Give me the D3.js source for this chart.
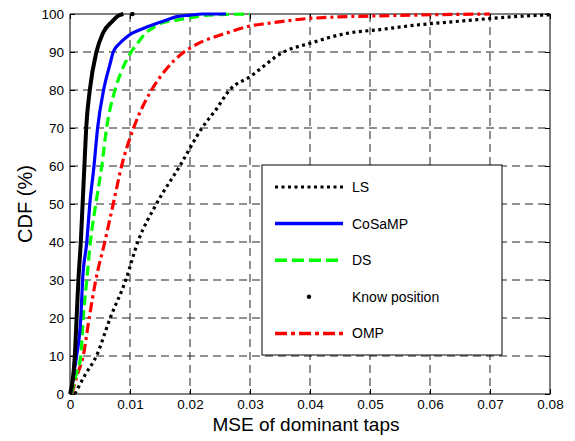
<!DOCTYPE html>
<html><head><meta charset="utf-8">
<script src="https://cdn.jsdelivr.net/npm/d3@7"></script>
<style>body{margin:0;background:#fff}text{font-family:Arial,"Liberation Sans",sans-serif}</style>
</head><body><svg id="c" width="575" height="441"></svg>
<script>
const xTicks = [0, 0.01, 0.02, 0.03, 0.04, 0.05, 0.06, 0.07, 0.08];
const xTickLabels = ["0", "0.01", "0.02", "0.03", "0.04", "0.05", "0.06", "0.07", "0.08"];
const yTicks = [0, 10, 20, 30, 40, 50, 60, 70, 80, 90, 100];

const lsMSE = [0.0008, 0.0025, 0.0044, 0.0067, 0.0093, 0.0113, 0.0144, 0.0183, 0.0220, 0.0244, 0.0266, 0.0300, 0.0356, 0.0400, 0.0461, 0.0517, 0.0572, 0.0656, 0.0740, 0.0800];
const lsCDF = [0, 5, 10, 20, 30, 40, 50, 60, 70, 75, 80, 83.5, 90, 92.3, 94.9, 95.9, 97, 98.2, 99.3, 99.8];

const cosampMSE = [0.0001, 0.0006, 0.0011, 0.0018, 0.0021, 0.0028, 0.0033, 0.0040, 0.0046, 0.0056, 0.0067, 0.0072, 0.0083, 0.0094, 0.0103, 0.0122, 0.0144, 0.0161, 0.0178, 0.0200, 0.0220, 0.0260];
const cosampCDF = [0, 5, 10, 20, 30, 40, 50, 60, 70, 80, 87, 90, 92.3, 93.9, 94.9, 96.2, 97.5, 98.4, 99.3, 99.7, 100, 100];

const dsMSE = [0.0002, 0.0010, 0.0018, 0.0022, 0.0028, 0.0034, 0.0043, 0.0053, 0.0061, 0.0075, 0.0086, 0.0102, 0.0113, 0.0126, 0.0137, 0.0150, 0.0178, 0.0200, 0.0230, 0.0300];
const dsCDF = [0, 5, 10, 20, 30, 40, 50, 60, 70, 80, 85, 90, 92.4, 95, 96.2, 97.5, 98.4, 99, 99.7, 100];

const knownMSE = [0, 0.0004, 0.0008, 0.0011, 0.0014, 0.0018, 0.0021, 0.0024, 0.0027, 0.0033, 0.0044, 0.0055, 0.0070, 0.0080, 0.0089];
const knownCDF = [0, 3, 10, 20, 30, 40, 50, 60, 70, 80, 90, 95, 98, 99.5, 100];
const knownDotMSE = [0.0104];
const knownDotCDF = [100];

const ompMSE = [0.0003, 0.0012, 0.0022, 0.0032, 0.0043, 0.0058, 0.0072, 0.0086, 0.0106, 0.0136, 0.0158, 0.0190, 0.0211, 0.0261, 0.0305, 0.0328, 0.0405, 0.0570, 0.0700];
const ompCDF = [0, 5, 10, 20, 30, 40, 50, 60, 70, 80, 85, 90, 92, 95, 97, 97.5, 98.9, 99.7, 100];

const legendNames = ["LS", "CoSaMP", "DS", "Know position", "OMP"];

const svg = d3.select("#c");
const L = 70, R = 550, T = 14, B = 394;
const x = d3.scaleLinear().domain([0, 0.08]).range([L, R]);
const y = d3.scaleLinear().domain([0, 100]).range([B, T]);

// grid
const g = svg.append("g");
g.selectAll(".vg").data(xTicks.slice(1, -1)).enter().append("line")
  .attr("x1", d => x(d)).attr("x2", d => x(d)).attr("y1", T).attr("y2", B)
  .attr("stroke", "#222").attr("stroke-width", 1).attr("stroke-dasharray", "8,5");
g.selectAll(".hg").data(yTicks.slice(1, -1)).enter().append("line")
  .attr("y1", d => y(d)).attr("y2", d => y(d)).attr("x1", L).attr("x2", R)
  .attr("stroke", "#222").attr("stroke-width", 1).attr("stroke-dasharray", "8,5");

// axes
const xAxis = d3.axisBottom(x).tickValues(xTicks).tickFormat((d, i) => xTickLabels[i]).tickSizeInner(-5).tickSizeOuter(0).tickPadding(5);
const yAxis = d3.axisLeft(y).tickValues(yTicks).tickSizeInner(-5).tickSizeOuter(0).tickPadding(6);
const xa = svg.append("g").attr("transform", `translate(0,${B})`).call(xAxis);
const ya = svg.append("g").attr("transform", `translate(${L},0)`).call(yAxis);
const xt = svg.append("g").attr("transform", `translate(0,${T})`).call(d3.axisTop(x).tickValues(xTicks).tickFormat("").tickSizeInner(-5).tickSizeOuter(0));
const yr = svg.append("g").attr("transform", `translate(${R},0)`).call(d3.axisRight(y).tickValues(yTicks).tickFormat("").tickSizeInner(-5).tickSizeOuter(0));
[xa, ya, xt, yr].forEach(a => {
  a.select(".domain").remove();
  a.selectAll("line").attr("stroke", "#000");
  a.selectAll("text").attr("font-size", 13.5).attr("fill", "#000").attr("font-family", "Arial, 'Liberation Sans', sans-serif");
});
svg.append("rect").attr("x", L).attr("y", T).attr("width", R - L).attr("height", B - T)
  .attr("fill", "none").attr("stroke", "#000").attr("stroke-width", 1);

// series
const line = d3.line().x(d => x(d[0])).y(d => y(d[1])).curve(d3.curveMonotoneX);
const zip = (a, b) => a.map((v, i) => [v, b[i]]);
svg.append("clipPath").attr("id", "clp").append("rect").attr("x", L - 2).attr("y", T - 2).attr("width", R - L + 4).attr("height", B - T + 4);
const series = [
  {d: zip(lsMSE, lsCDF), c: "#000", w: 3.2, da: "3,3.5"},
  {d: zip(ompMSE, ompCDF), c: "#ff0000", w: 3.2, da: "10,4,3,4"},
  {d: zip(dsMSE, dsCDF), c: "#00ff00", w: 3.2, da: "10,5"},
  {d: zip(cosampMSE, cosampCDF), c: "#0000ff", w: 3.2, da: null},
  {d: zip(knownMSE, knownCDF), c: "#000", w: 4, da: null}
];
const sg = svg.append("g").attr("clip-path", "url(#clp)");
series.forEach(s => {
  sg.append("path").attr("d", line(s.d)).attr("fill", "none").attr("stroke", s.c)
    .attr("stroke-width", s.w).attr("stroke-dasharray", s.da).attr("stroke-linejoin", "round");
});
sg.selectAll(".kd").data(zip(knownDotMSE, knownDotCDF)).enter().append("circle")
  .attr("cx", d => x(d[0])).attr("cy", d => y(d[1])).attr("r", 2.2).attr("fill", "#000");

// legend
const lg = svg.append("g");
lg.append("rect").attr("x", 262).attr("y", 165).attr("width", 240).attr("height", 190)
  .attr("fill", "#fff").attr("stroke", "#000").attr("stroke-width", 1);
const legStyles = [
  {c: "#000", da: "3,3.5", w: 3},
  {c: "#0000ff", da: null, w: 3.5},
  {c: "#00ff00", da: "12,5", w: 3.5},
  {c: "#000", da: null, w: 0, dot: true},
  {c: "#ff0000", da: "12,4,4,4", w: 3.5}
];
legendNames.forEach((n, i) => {
  const yy = 187 + i * 36.6;
  const st = legStyles[i];
  if (st.dot) {
    lg.append("circle").attr("cx", 309).attr("cy", yy).attr("r", 2.2).attr("fill", "#000");
  } else {
    lg.append("line").attr("x1", 275).attr("x2", 343).attr("y1", yy).attr("y2", yy)
      .attr("stroke", st.c).attr("stroke-width", st.w).attr("stroke-dasharray", st.da);
  }
  lg.append("text").attr("x", 352).attr("y", yy).attr("dy", "0.35em").attr("font-size", 14).text(n);
});

// axis labels
svg.append("text").attr("x", 306).attr("y", 431).attr("text-anchor", "middle").attr("font-size", 19).text("MSE of dominant taps");
svg.append("text").attr("transform", `translate(32,${(T + B) / 2}) rotate(-90)`).attr("text-anchor", "middle").attr("font-size", 20).text("CDF (%)");
</script></body></html>
